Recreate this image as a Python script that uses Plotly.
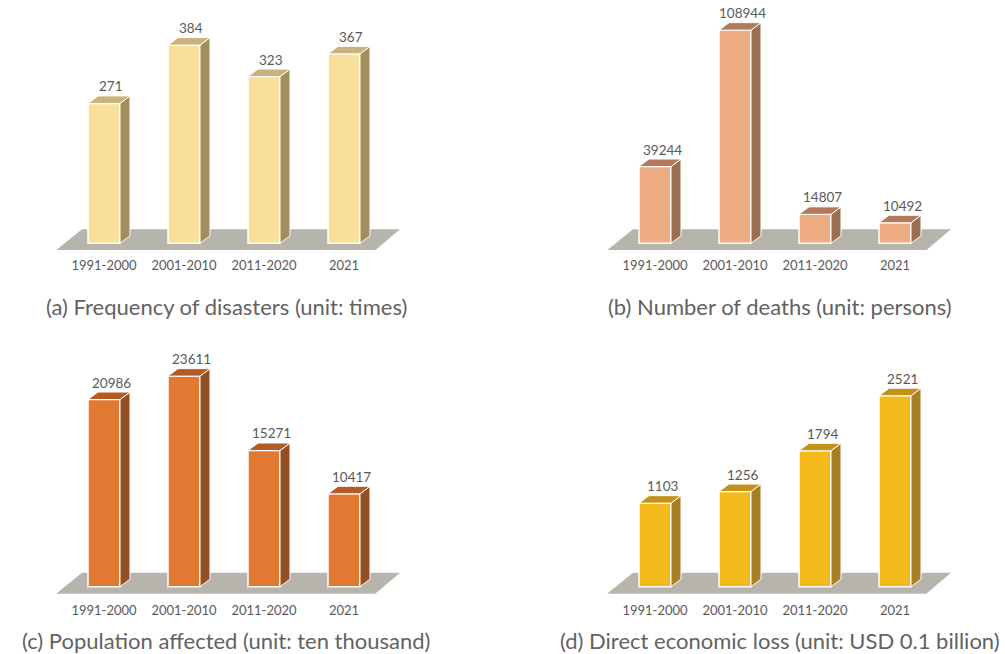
import plotly.graph_objects as go

# ---------------- data ----------------
periods = ["1991-2000", "2001-2010", "2011-2020", "2021"]
disaster_frequency = [271, 384, 323, 367]          # times
deaths = [39244, 108944, 14807, 10492]              # persons
population_affected = [20986, 23611, 15271, 10417]  # ten thousand
economic_loss = [1103, 1256, 1794, 2521]            # USD 0.1 billion

captions = [
    "(a) Frequency of disasters (unit: times)",
    "(b) Number of deaths (unit: persons)",
    "(c) Population affected (unit: ten thousand)",
    "(d) Direct economic loss (unit: USD 0.1 billion)",
]

# ---------------- styling / layout ----------------
W, H = 1005, 654
TXT = "#595959"
FONT = "Lato"
FLOOR = "#B7B4AB"
SPACING = 80.0      # px between bar centres
BAR_W = 0.4         # category units (front face)
DX_PX, DY_PX = 10.0, 7.5   # depth offset of side / top faces

panels = [
    dict(vals=disaster_frequency, front="#F8E09B", top="#C9B27B", side="#A38D5C",
         xdom=(50, 410), c0=104, ydom=(12, 250), base=243.3, k=0.5162,
         cap_xy=(226, 306)),
    dict(vals=deaths, front="#EEAC83", top="#B4795A", side="#9A6E51",
         xdom=(600, 960), c0=655, ydom=(12, 250), base=243.3, k=0.0019565,
         cap_xy=(780, 306)),
    dict(vals=population_affected, front="#E27933", top="#B35A25", side="#954F24",
         xdom=(50, 410), c0=104, ydom=(345, 595), base=586.7, k=0.008919,
         cap_xy=(226, 640)),
    dict(vals=economic_loss, front="#F4BA1C", top="#C3921A", side="#A77F27",
         xdom=(600, 960), c0=655, ydom=(345, 595), base=586.7, k=0.07575,
         cap_xy=(780, 640)),
]

fig = go.Figure()
layout = dict(
    width=W, height=H, margin=dict(l=0, r=0, t=0, b=0),
    paper_bgcolor="white", plot_bgcolor="rgba(0,0,0,0)",
    showlegend=False, font=dict(family=FONT, color=TXT),
)
shapes, annotations = [], []

for n, p in enumerate(panels, start=1):
    xa = "x" if n == 1 else f"x{n}"
    ya = "y" if n == 1 else f"y{n}"
    k = p["k"]
    x0px, x1px = p["xdom"]
    y0px, y1px = p["ydom"]
    xr = [(x0px - p["c0"]) / SPACING, (x1px - p["c0"]) / SPACING]
    yr = [-(y1px - p["base"]) / k, (p["base"] - y0px) / k]
    layout[f"xaxis{'' if n == 1 else n}"] = dict(
        domain=[x0px / W, x1px / W], range=xr, anchor=ya,
        tickvals=list(range(len(periods))), ticktext=periods,
        showgrid=False, zeroline=False, showline=False, ticks="",
        ticklabelstandoff=6,
        tickfont=dict(family=FONT, size=13, color=TXT), fixedrange=True,
    )
    layout[f"yaxis{'' if n == 1 else n}"] = dict(
        domain=[1 - y1px / H, 1 - y0px / H], range=yr, anchor=xa,
        showgrid=False, zeroline=False, showline=False, showticklabels=False,
        fixedrange=True,
    )

    dxu = DX_PX / SPACING
    dyv = DY_PX / k
    xs = list(range(len(p["vals"])))

    # floor
    fb, ft = -7.0 / k, 14.0 / k
    shapes.append(dict(
        type="path", xref=xa, yref=ya, layer="below", line=dict(width=0),
        fillcolor=FLOOR,
        path=f"M {-0.6} {fb} L {-0.275} {ft} L {3.7} {ft} L {3.39} {fb} Z",
    ))

    # front faces
    fig.add_trace(go.Bar(
        x=xs, y=p["vals"], width=BAR_W, xaxis=xa, yaxis=ya,
        marker=dict(color=p["front"], line=dict(color="white", width=1.5)),
        hoverinfo="skip",
    ))

    # side faces
    sx, sy = [], []
    for x, v in zip(xs, p["vals"]):
        r = x + BAR_W / 2
        sx += [r, r + dxu, r + dxu, r, r, None]
        sy += [0, dyv, v + dyv, v, 0, None]
    fig.add_trace(go.Scatter(
        x=sx, y=sy, xaxis=xa, yaxis=ya, mode="lines", fill="toself",
        fillcolor=p["side"], line=dict(color="white", width=1), hoverinfo="skip",
    ))

    # top faces
    tx, ty = [], []
    for x, v in zip(xs, p["vals"]):
        l, r = x - BAR_W / 2, x + BAR_W / 2
        tx += [l, l + dxu, r + dxu, r, l, None]
        ty += [v, v + dyv, v + dyv, v, v, None]
    fig.add_trace(go.Scatter(
        x=tx, y=ty, xaxis=xa, yaxis=ya, mode="lines", fill="toself",
        fillcolor=p["top"], line=dict(color="white", width=1), hoverinfo="skip",
    ))

    # value labels
    for x, v in zip(xs, p["vals"]):
        annotations.append(dict(
            x=x, y=v, xref=xa, yref=ya, text=str(v), showarrow=False,
            xanchor="center", yanchor="bottom", xshift=7, yshift=7,
            font=dict(family=FONT, size=13.5, color=TXT),
        ))

    # caption
    cx, cy = p["cap_xy"]
    annotations.append(dict(
        x=cx / W, y=1 - cy / H, xref="paper", yref="paper",
        text=captions[n - 1], showarrow=False, xanchor="center", yanchor="middle",
        font=dict(family=FONT, size=22, color="#626262"),
    ))

layout["shapes"] = shapes
layout["annotations"] = annotations
fig.update_layout(**layout)
fig.write_html("out.html")
